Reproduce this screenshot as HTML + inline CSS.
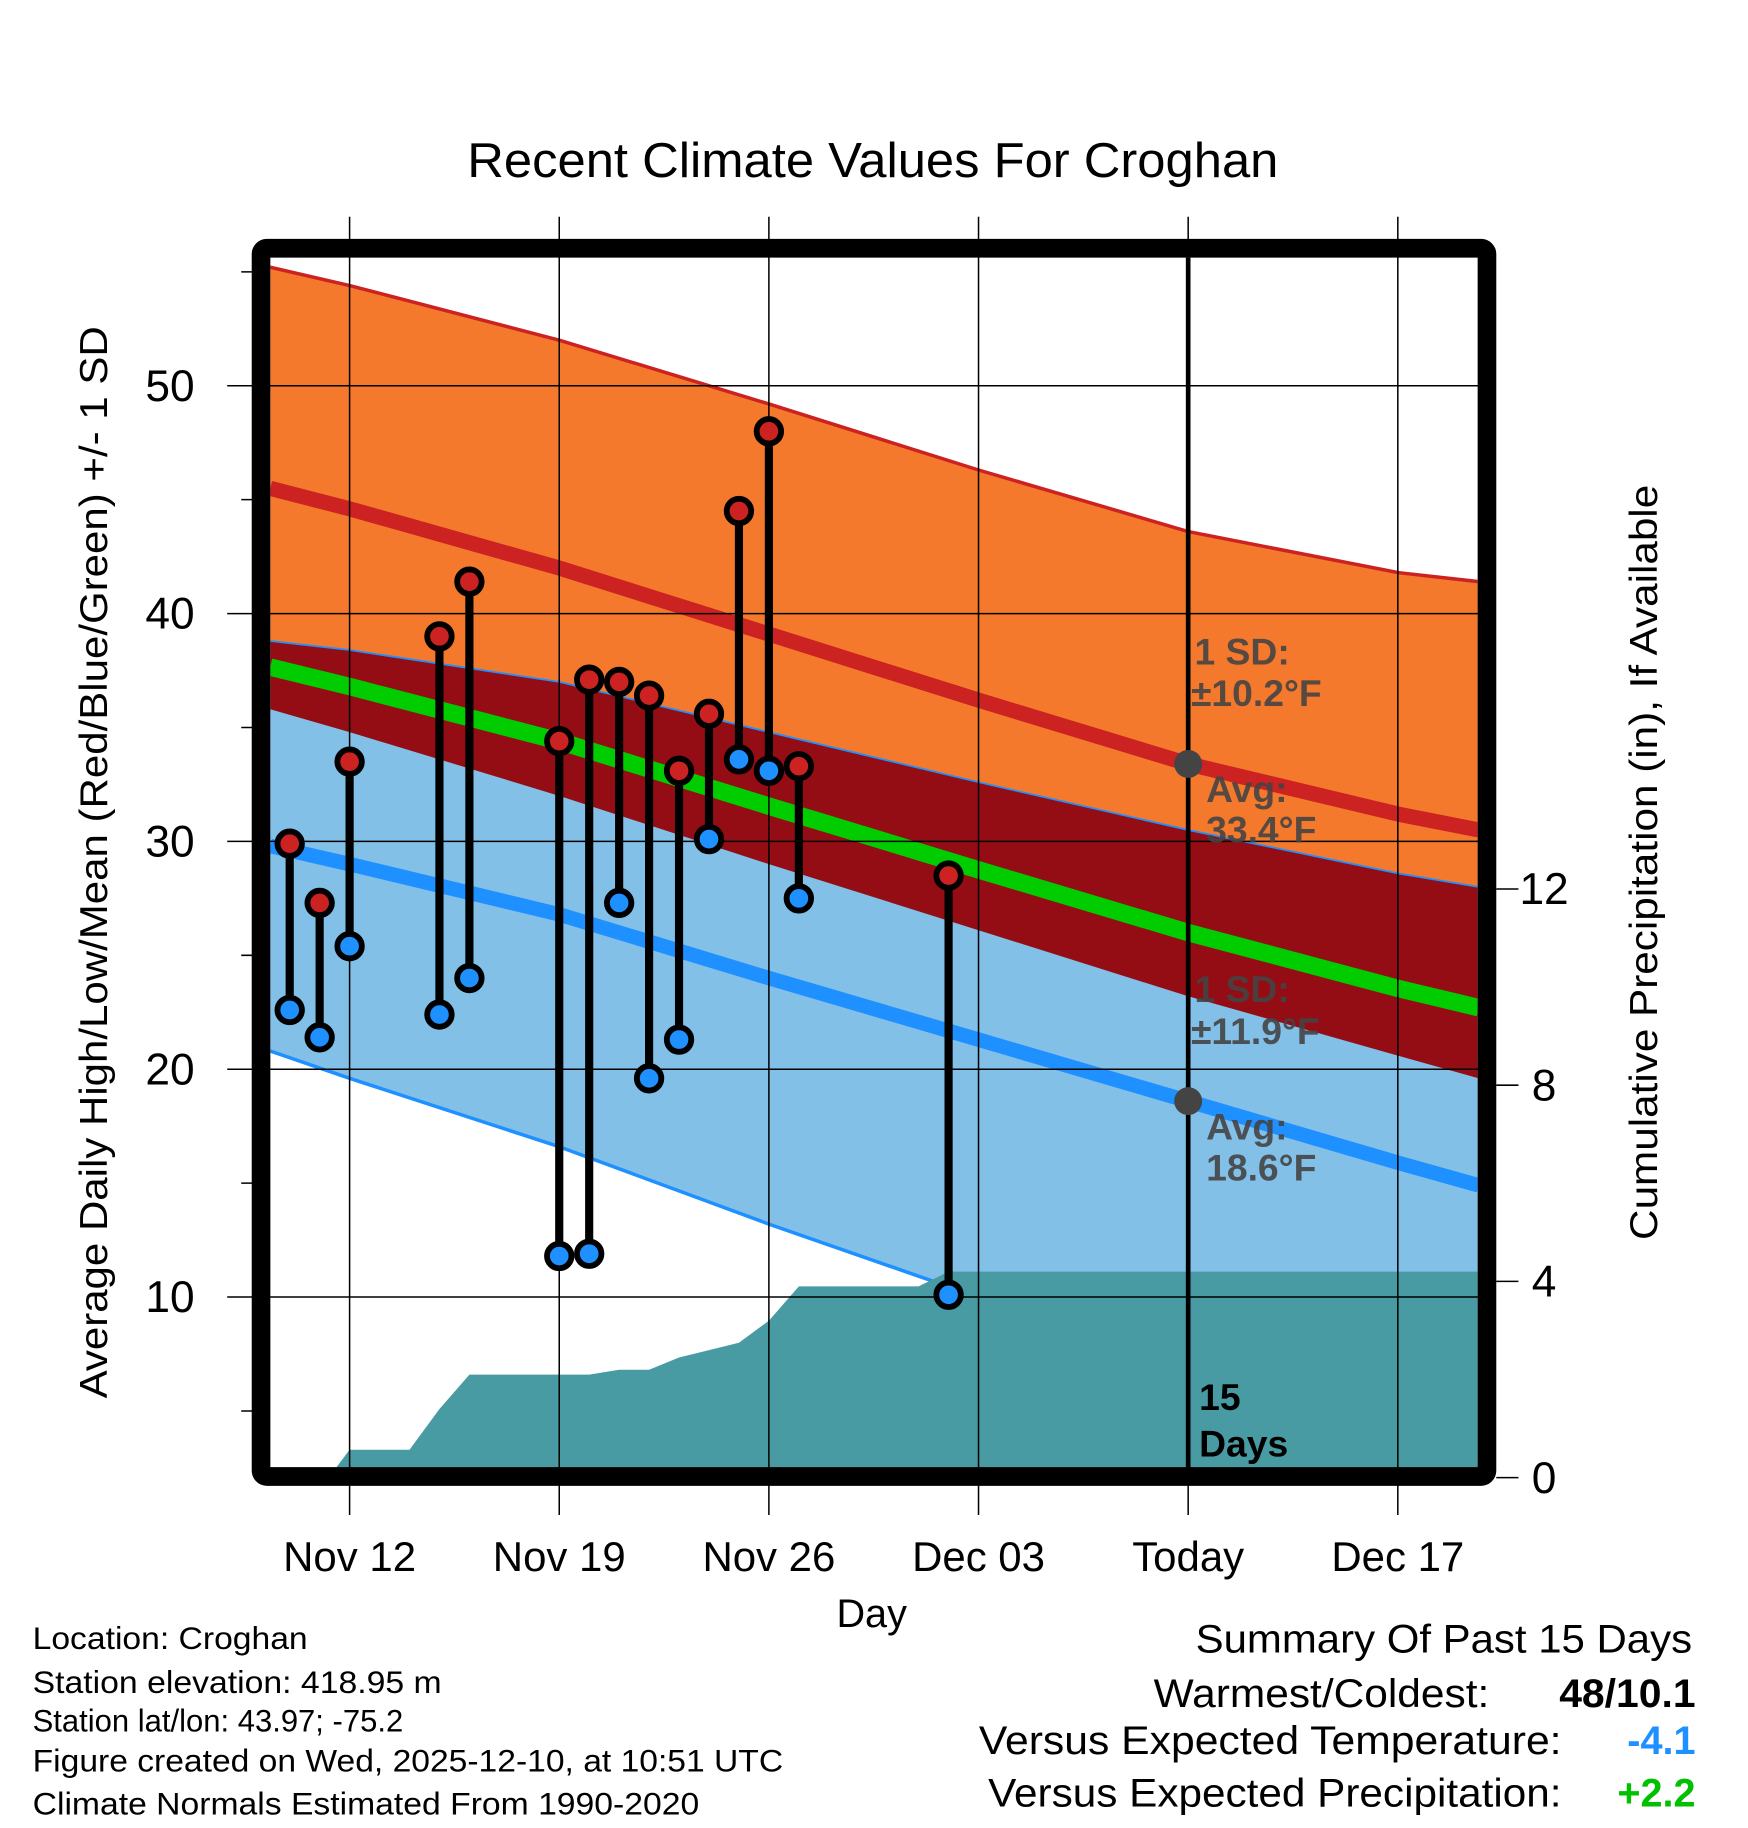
<!DOCTYPE html>
<html><head><meta charset="utf-8">
<style>html,body{margin:0;padding:0;background:#fff;}svg{display:block;}text{font-family:"Liberation Sans",sans-serif;}</style>
</head><body>
<svg id="chart" width="1748" height="1828" viewBox="0 0 1500 1568.6" xmlns="http://www.w3.org/2000/svg">
<defs><clipPath id="plotclip"><rect x="232" y="221" width="1036" height="1039"/></clipPath></defs>
<g id="layers" clip-path="url(#plotclip)"></g>
<g id="grid"></g>
<g id="marks"></g>
<g id="axes"></g>
<text x="749" y="152" font-size="42" text-anchor="middle" textLength="696" lengthAdjust="spacingAndGlyphs">Recent Climate Values For Croghan</text>
<text x="748" y="1396" font-size="34" text-anchor="middle">Day</text>
<text transform="translate(92,740) rotate(-90)" font-size="33" text-anchor="middle" textLength="920" lengthAdjust="spacingAndGlyphs">Average Daily High/Low/Mean (Red/Blue/Green) +/- 1 SD</text>
<text transform="translate(1422,740) rotate(-90)" font-size="33" text-anchor="middle" textLength="648" lengthAdjust="spacingAndGlyphs">Cumulative Precipitation (in), If Available</text>
<g font-size="32" font-weight="bold" fill="#444" fill-opacity="0.9">
<text x="1025" y="570">1 SD:</text>
<text x="1022" y="606">±10.2°F</text>
<text x="1035" y="688">Avg:</text>
<text x="1035" y="723">33.4°F</text>
<text x="1025" y="860">1 SD:</text>
<text x="1022" y="896">±11.9°F</text>
<text x="1035" y="978">Avg:</text>
<text x="1035" y="1013">18.6°F</text>
</g>
<text x="1029" y="1210" font-size="32" font-weight="bold">15</text>
<text x="1029" y="1250" font-size="32" font-weight="bold">Days</text>
<g font-size="27">
<text x="28" y="1415" textLength="236" lengthAdjust="spacingAndGlyphs">Location: Croghan</text>
<text x="28" y="1453" textLength="351" lengthAdjust="spacingAndGlyphs">Station elevation: 418.95 m</text>
<text x="28" y="1486" textLength="318" lengthAdjust="spacingAndGlyphs">Station lat/lon: 43.97; -75.2</text>
<text x="28" y="1520" textLength="644" lengthAdjust="spacingAndGlyphs">Figure created on Wed, 2025-12-10, at 10:51 UTC</text>
<text x="28" y="1557" textLength="572" lengthAdjust="spacingAndGlyphs">Climate Normals Estimated From 1990-2020</text>
</g>
<g font-size="34">
<text x="1452" y="1418" text-anchor="end" textLength="426" lengthAdjust="spacingAndGlyphs">Summary Of Past 15 Days</text>
<text x="1278" y="1465" text-anchor="end" textLength="288" lengthAdjust="spacingAndGlyphs">Warmest/Coldest:</text>
<text x="1455" y="1465" text-anchor="end" font-weight="bold" textLength="117" lengthAdjust="spacingAndGlyphs">48/10.1</text>
<text x="1340" y="1505" text-anchor="end" textLength="500" lengthAdjust="spacingAndGlyphs">Versus Expected Temperature:</text>
<text x="1455" y="1505" text-anchor="end" font-weight="bold" fill="#1e90ff">-4.1</text>
<text x="1340" y="1550" text-anchor="end" textLength="492" lengthAdjust="spacingAndGlyphs">Versus Expected Precipitation:</text>
<text x="1455" y="1550" text-anchor="end" font-weight="bold" fill="#00c000">+2.2</text>
</g>
</svg>
<script>
// Normals (day index from Nov 12 = 0)
const normDays = [-2.65, 0, 7, 14, 21, 28, 35, 37.7];
const avgHigh = [45.5, 44.6, 42.0, 39.1, 36.2, 33.4, 31.2, 30.5];
const highSD = [9.7, 9.8, 10.0, 10.1, 10.1, 10.2, 10.6, 10.9];
const avgLow = [29.8, 29.0, 26.8, 24.0, 21.3, 18.6, 15.9, 14.9];
const lowSD = [9.0, 9.4, 10.2, 10.8, 11.3, 11.9, 12.7, 13.1];
// Observed
const obsDays = [-2, -1, 0, 3, 4, 7, 8, 9, 10, 11, 12, 13, 14, 15, 20];
const obsHigh = [29.9, 27.3, 33.5, 39.0, 41.4, 34.4, 37.1, 37.0, 36.4, 33.1, 35.6, 44.5, 48.0, 33.3, 28.5];
const obsLow = [22.6, 21.4, 25.4, 22.4, 24.0, 11.8, 11.9, 27.3, 19.6, 21.3, 30.1, 33.6, 33.1, 27.5, 10.1];
// Cumulative precipitation
const precDays = [-0.7, 0, 2, 3, 4, 5, 7, 8, 9, 10, 11, 13, 14, 15, 19, 20, 37.7];
const precVals = [0, 0.57, 0.57, 1.4, 2.1, 2.1, 2.1, 2.1, 2.2, 2.2, 2.45, 2.75, 3.2, 3.9, 3.9, 4.2, 4.2];
// Ticks
const xTickDays = [0, 7, 14, 21, 28, 35];
const xTickLabels = ["Nov 12", "Nov 19", "Nov 26", "Dec 03", "Today", "Dec 17"];
const yTicks = [10, 20, 30, 40, 50];
const yMinor = [5, 15, 25, 35, 45, 55];
const pTicks = [0, 4, 8, 12];
const todayDay = 28;

const X = d => 300 + d * 25.7;
const Y = v => 331 + (50 - v) * 19.55;
const P = p => 1268 - p * 42.1;
const NS = "http://www.w3.org/2000/svg";
function mk(tag, parent, attrs) { const e = document.createElementNS(NS, tag); for (const k in attrs) e.setAttribute(k, attrs[k]); parent.appendChild(e); return e; }
const layers = document.getElementById('layers'), grid = document.getElementById('grid'), marks = document.getElementById('marks'), axes = document.getElementById('axes');
function pts(ds, vs, f) { return ds.map((d, i) => X(d).toFixed(1) + ',' + f(vs[i]).toFixed(1)); }
function band(top, bot) { return pts(normDays, top, Y).concat(pts(normDays, bot, Y).reverse()).join(' '); }
const hiP = avgHigh.map((v, i) => v + highSD[i]), hiM = avgHigh.map((v, i) => v - highSD[i]);
const loP = avgLow.map((v, i) => v + lowSD[i]), loM = avgLow.map((v, i) => v - lowSD[i]);
const mean = avgHigh.map((v, i) => (v + avgLow[i]) / 2);

let e;
e = mk('polygon', layers, { points: band(hiP, loP), fill: '#f4792c' });
 
e = mk('polygon', layers, { points: band(loP, loM), fill: '#82c0e8' });
 
e = mk('polygon', layers, { points: band(loP, hiM), fill: '#940d14' });
 
e = mk('polyline', layers, { points: pts(normDays, hiP, Y).join(' '), fill: 'none', stroke: '#cc2222', 'stroke-width': 3 });
 
e = mk('polyline', layers, { points: pts(normDays, loP, Y).join(' '), fill: 'none', stroke: '#1e90ff', 'stroke-width': 1.5 });
 
e = mk('polyline', layers, { points: pts(normDays, loM, Y).join(' '), fill: 'none', stroke: '#1e90ff', 'stroke-width': 3 });
 
e = mk('polyline', layers, { points: pts(normDays, avgHigh, Y).join(' '), fill: 'none', stroke: '#cc2222', 'stroke-width': 13 });
 
e = mk('polyline', layers, { points: pts(normDays, mean, Y).join(' '), fill: 'none', stroke: '#00cc00', 'stroke-width': 15 });
 
e = mk('polyline', layers, { points: pts(normDays, avgLow, Y).join(' '), fill: 'none', stroke: '#1e90ff', 'stroke-width': 12.5 });
 
const pp = pts(precDays, precVals, P);
pp.push(X(precDays[precDays.length - 1]).toFixed(1) + ',' + P(0)); pp.push(X(precDays[0]).toFixed(1) + ',' + P(0));
e = mk('polygon', layers, { points: pp.join(' '), fill: '#489ba3' });
 

// grid
xTickDays.forEach((d, i) => {
  const g = mk('line', grid, { x1: X(d), x2: X(d), y1: 186, y2: 1300, stroke: '#000', 'stroke-width': 1.3 });
   
  const t = mk('text', axes, { x: X(d), y: 1348, 'font-size': 36, 'text-anchor': 'middle' });
  t.textContent = xTickLabels[i];
   
});
yTicks.forEach(v => {
  const g = mk('line', grid, { x1: 195, x2: 1276, y1: Y(v), y2: Y(v), stroke: '#000', 'stroke-width': 1.3 });
   
  const t = mk('text', axes, { x: 167, y: Y(v) + 13, 'font-size': 38, 'text-anchor': 'end' });
  t.textContent = v;
   
});
yMinor.forEach(v => {
  const g = mk('line', grid, { x1: 207, x2: 222, y1: Y(v), y2: Y(v), stroke: '#000', 'stroke-width': 1.3 });
   
});
pTicks.forEach(p => {
  const g = mk('line', grid, { x1: 1284, x2: 1303, y1: P(p), y2: P(p), stroke: '#000', 'stroke-width': 1.3 });
   
  const t = mk('text', axes, { x: 1325, y: P(p) + 13, 'font-size': 38, 'text-anchor': 'middle' });
  t.textContent = p;
   
});

// today line and dots
e = mk('line', marks, { x1: X(todayDay), x2: X(todayDay), y1: 221, y2: 1260, stroke: '#000', 'stroke-width': 4 });
 
e = mk('circle', marks, { cx: X(todayDay), cy: Y(avgHigh[5]), r: 12, fill: '#444' });
 
e = mk('circle', marks, { cx: X(todayDay), cy: Y(avgLow[5]), r: 12, fill: '#444' });
 

// observations
obsDays.forEach((d, i) => {
  const s = mk('line', marks, { x1: X(d), x2: X(d), y1: Y(obsHigh[i]), y2: Y(obsLow[i]), stroke: '#000', 'stroke-width': 7 });
   
  const h = mk('circle', marks, { cx: X(d), cy: Y(obsHigh[i]), r: 10.5, fill: '#cc2222', stroke: '#000', 'stroke-width': 5 });
   
  const l = mk('circle', marks, { cx: X(d), cy: Y(obsLow[i]), r: 10.5, fill: '#1e90ff', stroke: '#000', 'stroke-width': 5 });
   
});

// frame
e = mk('rect', axes, { x: 224, y: 213, width: 1052, height: 1054, rx: 5, fill: 'none', stroke: '#000', 'stroke-width': 16 });
 
</script>
</body></html>
